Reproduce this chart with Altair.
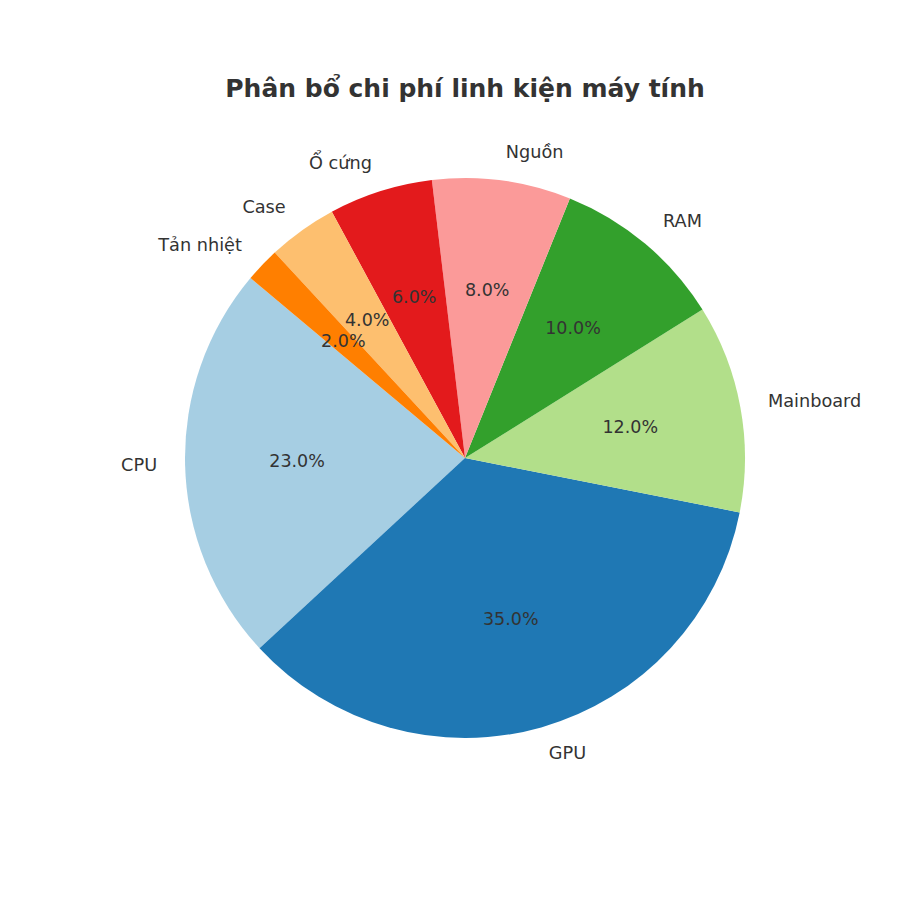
import math
import altair as alt
import pandas as pd

categories = ["CPU", "GPU", "Mainboard", "RAM", "Nguồn", "Ổ cứng", "Case", "Tản nhiệt"]
values = [23, 35, 12, 10, 8, 6, 4, 2]
colors = ["#a6cee3", "#1f78b4", "#b2df8a", "#33a02c", "#fb9a99", "#e31a1c", "#fdbf6f", "#ff7f00"]

df = pd.DataFrame({"category": categories, "value": values})
total = sum(values)

FONT = "DejaVu Sans"
TXT = "#333333"
start_deg = 140  # matplotlib-style start angle, counter-clockwise
a0 = math.radians(90 - start_deg)
a1 = a0 - 2 * math.pi
theta_scale = alt.Scale(domain=[0, total], range=[a0, a1])

base = (
    alt.Chart(df)
    .transform_window(idx="row_number()")
    .transform_stack(stack="value", groupby=[], as_=["v0", "v1"],
                     sort=[alt.SortField("idx", order="ascending")])
    .transform_calculate(
        mid="(datum.v0 + datum.v1) / 2",
        pct="format(datum.value / " + str(total) + " * 100, '.1f') + '%'",
        sx="sin(" + repr(a0) + " - datum.mid / " + str(total) + " * 2 * PI)",
    )
)

arcs = base.mark_arc(outerRadius=280).encode(
    theta=alt.Theta("v0:Q", scale=theta_scale, stack=False),
    theta2="v1:Q",
    color=alt.Color("category:N", scale=alt.Scale(domain=categories, range=colors), legend=None),
    order=alt.Order("idx:Q"),
)

pct = base.mark_text(radius=168, font=FONT, fontSize=17.5, color=TXT,
                     align="center", baseline="middle").encode(
    theta=alt.Theta("mid:Q", scale=theta_scale, stack=False),
    text="pct:N",
)

labels_right = base.transform_filter("datum.sx > 0").mark_text(
    radius=308, font=FONT, fontSize=17.7, color=TXT, align="left", baseline="middle"
).encode(
    theta=alt.Theta("mid:Q", scale=theta_scale, stack=False),
    text="category:N",
)

labels_left = base.transform_filter("datum.sx <= 0").mark_text(
    radius=308, font=FONT, fontSize=17.7, color=TXT, align="right", baseline="middle"
).encode(
    theta=alt.Theta("mid:Q", scale=theta_scale, stack=False),
    text="category:N",
)

chart = (
    alt.layer(arcs, pct, labels_right, labels_left)
    .properties(
        width=868,
        height=700,
        padding={"left": 23, "top": 100, "right": 0, "bottom": 0},
        autosize=alt.AutoSizeParams(type="none"),
        title=alt.TitleParams(
            text="Phân bổ chi phí linh kiện máy tính",
            font=FONT, fontSize=25, fontWeight="bold", color=TXT,
            anchor="middle", frame="group", baseline="alphabetic", offset=-14,
        ),
    )
    .configure_view(strokeWidth=0)
)

chart.save("out.html", embed_options={"renderer": "svg", "actions": False})
